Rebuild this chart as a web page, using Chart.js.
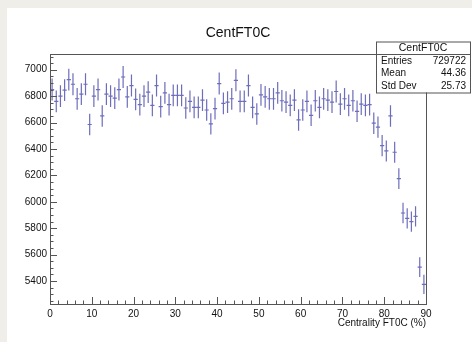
<!DOCTYPE html>
<html>
<head>
<meta charset="utf-8">
<script src="https://cdn.jsdelivr.net/npm/chart.js@4/dist/chart.umd.min.js"></script>
<style>
  html, body { margin: 0; padding: 0; background: #efeee8; width: 472px; height: 342px; overflow: hidden; }
  #wrap { position: absolute; left: 7px; top: 8px; width: 465px; height: 334px; background: #fff; }
  canvas { display: block; }
</style>
</head>
<body>
<div id="wrap"><canvas id="c" width="465" height="334"></canvas></div>
<script>
// histogram CentFT0C, 1% bins from 0 to 90
const counts = [
  6850, 6760, 6800, 6845, 6925, 6890, 6780, 6815, 6890, 6585,
  6800, 6850, 6650, 6815, 6800, 6785, 6850, 6945, 6795, 6880,
  6775, 6735, 6800, 6830, 6730, 6880, 6720, 6825, 6735, 6805,
  6805, 6805, 6710, 6760, 6715, 6715, 6770, 6695, 6590, 6705,
  6895, 6745, 6755, 6780, 6920, 6760, 6760, 6880, 6715, 6665,
  6810, 6795, 6780, 6780, 6825, 6765, 6755, 6730, 6770, 6620,
  6695, 6760, 6655, 6765, 6715, 6780, 6770, 6755, 6835, 6740,
  6780, 6730, 6765, 6685, 6740, 6730, 6735, 6595, 6565, 6425,
  6385, 6650, 6375, 6175, 5915, 5875, 5850, 5890, 5505, 5375
];
const binCenters = counts.map((_, i) => i + 0.5);
const xTicks = [0, 10, 20, 30, 40, 50, 60, 70, 80, 90];
const yTicks = [5400, 5600, 5800, 6000, 6200, 6400, 6600, 6800, 7000];
const xRange = [0, 90];
const yRange = [5226, 7119];

const histTitle = 'CentFT0C';
const xTitle = 'Centrality FT0C (%)';
const statLabels = ['Entries', 'Mean', 'Std Dev'];
const statValues = ['729722', '44.36', '25.73'];

const FONT = '"Liberation Sans", Arial, Helvetica, sans-serif';
const markColor = 'rgba(60,60,165,0.75)';
const frameColor = '#555';

const rootStyle = {
  id: 'rootStyle',
  afterDatasetsDraw(chart) {
    const ctx = chart.ctx;
    const xs = chart.scales.x, ys = chart.scales.y;
    ctx.save();
    ctx.strokeStyle = markColor;
    ctx.lineWidth = 1.2;
    counts.forEach((v, i) => {
      const err = Math.sqrt(v);
      const px = xs.getPixelForValue(binCenters[i]);
      const py = ys.getPixelForValue(v);
      ctx.beginPath();
      ctx.moveTo(px, ys.getPixelForValue(v + err));
      ctx.lineTo(px, ys.getPixelForValue(v - err));
      ctx.moveTo(xs.getPixelForValue(binCenters[i] - 0.5), py);
      ctx.lineTo(xs.getPixelForValue(binCenters[i] + 0.5), py);
      ctx.stroke();
    });
    ctx.restore();
  },
  afterDraw(chart) {
    const ctx = chart.ctx;
    const a = chart.chartArea;
    const xs = chart.scales.x, ys = chart.scales.y;
    ctx.save();
    ctx.strokeStyle = frameColor;
    ctx.lineWidth = 1;
    // frame
    ctx.strokeRect(Math.round(a.left) + 0.5, Math.round(a.top) + 0.5,
      Math.round(a.right - a.left), Math.round(a.bottom - a.top));
    // ticks inside the frame
    ctx.beginPath();
    for (let v = xRange[0]; v <= xRange[1]; v += 2) {
      const px = Math.round(xs.getPixelForValue(v)) + 0.5;
      const len = v % 10 === 0 ? 7 : 3.5;
      ctx.moveTo(px, a.bottom);
      ctx.lineTo(px, a.bottom - len);
    }
    for (let v = 5250; v <= yRange[1]; v += 50) {
      const py = Math.round(ys.getPixelForValue(v)) + 0.5;
      const len = v % 200 === 0 ? 7 : 3.5;
      ctx.moveTo(a.left, py);
      ctx.lineTo(a.left + len, py);
    }
    ctx.stroke();

    // title
    ctx.fillStyle = '#111';
    ctx.font = '14px ' + FONT;
    ctx.textAlign = 'center';
    ctx.textBaseline = 'middle';
    ctx.fillText(histTitle, (a.left + a.right) / 2, 25);

    // x axis title
    ctx.font = '10px ' + FONT;
    ctx.textAlign = 'right';
    ctx.fillText(xTitle, a.right, 315);

    // stats box
    const bx = 369, by = 33.5, bw = 94, bh = 51;
    ctx.fillStyle = '#fff';
    ctx.fillRect(bx, by, bw, bh);
    ctx.strokeRect(bx + 0.5, by + 0.5, bw, bh);
    ctx.beginPath();
    ctx.moveTo(bx, Math.round(a.top) + 0.5);
    ctx.lineTo(bx + bw, Math.round(a.top) + 0.5);
    ctx.stroke();
    ctx.fillStyle = '#111';
    ctx.font = '10.5px ' + FONT;
    ctx.textAlign = 'center';
    ctx.fillText(histTitle, bx + bw / 2, 40.5);
    ctx.font = '10px ' + FONT;
    statLabels.forEach((lab, i) => {
      const ty = 53 + i * 12.7;
      ctx.textAlign = 'left';
      ctx.fillText(lab, bx + 5, ty);
      ctx.textAlign = 'right';
      ctx.fillText(statValues[i], bx + bw - 4, ty);
    });
    ctx.restore();
  }
};

new Chart(document.getElementById('c'), {
  type: 'scatter',
  data: {
    datasets: [{
      data: binCenters.map((x, i) => ({ x: x, y: counts[i] })),
      pointRadius: 0,
      pointHoverRadius: 0,
      showLine: false
    }]
  },
  options: {
    responsive: false,
    animation: false,
    events: [],
    layout: { padding: { top: 46, right: 46, left: 0, bottom: 0 } },
    plugins: { legend: { display: false }, tooltip: { enabled: false } },
    scales: {
      x: {
        type: 'linear',
        min: xRange[0],
        max: xRange[1],
        grid: { display: false, drawTicks: false },
        border: { display: false },
        afterBuildTicks: s => { s.ticks = xTicks.map(v => ({ value: v })); },
        afterFit: s => { s.height = 38; },
        ticks: { padding: 4, color: '#111', font: { family: FONT, size: 10 }, maxRotation: 0, autoSkip: false,
          callback: v => String(v) }
      },
      y: {
        min: yRange[0],
        max: yRange[1],
        grid: { display: false, drawTicks: false },
        border: { display: false },
        afterBuildTicks: s => { s.ticks = yTicks.map(v => ({ value: v })); },
        afterFit: s => { s.width = 43; },
        ticks: { padding: 3, color: '#111', font: { family: FONT, size: 10 }, autoSkip: false,
          callback: v => String(v) }
      }
    }
  },
  plugins: [rootStyle]
});
</script>
</body>
</html>
